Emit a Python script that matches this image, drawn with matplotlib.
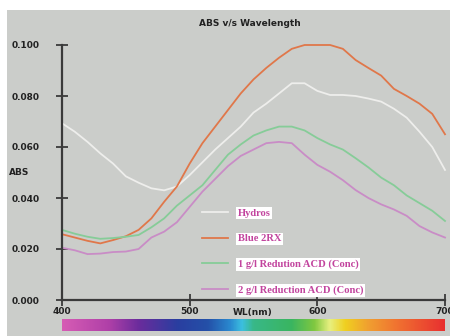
import numpy as np
import matplotlib
matplotlib.use("Agg")
import matplotlib.pyplot as plt
from matplotlib.patches import Rectangle
from matplotlib.colors import LinearSegmentedColormap

wavelength = list(range(400, 701, 10))
hydros = [0.0693, 0.0660, 0.0620, 0.0575, 0.0535, 0.0485, 0.0460, 0.0438, 0.0430, 0.0445,
          0.0490, 0.0540, 0.0590, 0.0635, 0.0680, 0.0735, 0.0770, 0.0810, 0.0850, 0.0850,
          0.0820, 0.0804, 0.0804, 0.0800, 0.0790, 0.0778, 0.0750, 0.0715, 0.0660, 0.0600, 0.0510]
blue_2rx = [0.0258, 0.0245, 0.0232, 0.0222, 0.0235, 0.0250, 0.0275, 0.0320, 0.0385, 0.0445,
            0.0535, 0.0615, 0.0680, 0.0745, 0.0810, 0.0865, 0.0910, 0.0950, 0.0985, 0.1000,
            0.1000, 0.1000, 0.0985, 0.0941, 0.0910, 0.0880, 0.0828, 0.0800, 0.0770, 0.0730, 0.0650]
red_1g = [0.0275, 0.0260, 0.0248, 0.0240, 0.0243, 0.0248, 0.0255, 0.0285, 0.0320, 0.0370,
          0.0410, 0.0450, 0.0510, 0.0570, 0.0610, 0.0645, 0.0665, 0.0680, 0.0680, 0.0665,
          0.0635, 0.0610, 0.0590, 0.0556, 0.0520, 0.0480, 0.0450, 0.0410, 0.0380, 0.0350, 0.0310]
red_2g = [0.0205, 0.0195, 0.0180, 0.0182, 0.0188, 0.0190, 0.0200, 0.0245, 0.0268, 0.0305,
          0.0365, 0.0425, 0.0475, 0.0525, 0.0565, 0.0590, 0.0615, 0.0620, 0.0615, 0.0570,
          0.0530, 0.0503, 0.0470, 0.0431, 0.0400, 0.0375, 0.0355, 0.0330, 0.0290, 0.0265, 0.0245]
series_names = ["Hydros", "Blue 2RX", "1 g/l Redution ACD (Conc)", "2 g/l Reduction ACD (Conc)"]
series_colors = ["#eeeeec", "#e0774a", "#86cc98", "#c98cc6"]
yticks = [0.0, 0.02, 0.04, 0.06, 0.08, 0.10]
ytick_labels = ["0.000", "0.020", "0.040", "0.060", "0.080", "0.100"]
xticks = [400, 500, 600, 700]

W, H = 450, 336
bg = "#cbcdca"
fig = plt.figure(figsize=(W / 100, H / 100), dpi=100)
fig.patch.set_facecolor("white")
fig.patches.append(Rectangle((7 / W, 0), 1 - 7 / W, 1 - 10 / H, transform=fig.transFigure,
                             facecolor=bg, edgecolor="none", zorder=-10))

ax = fig.add_axes([62 / W, 1 - 300 / H, (445 - 62) / W, (300 - 45) / H])
ax.set_facecolor("none")
for vals, name, col in zip([hydros, blue_2rx, red_1g, red_2g], series_names, series_colors):
    ax.plot(wavelength, vals, color=col, lw=1.3, label=name, clip_on=False)
ax.set_xlim(400, 700)
ax.set_ylim(0, 0.1)
for s in ["top", "right"]:
    ax.spines[s].set_visible(False)
for s in ["left", "bottom"]:
    ax.spines[s].set_color("#3a3a3a")
    ax.spines[s].set_linewidth(1.6)
ax.set_yticks(yticks)
ax.set_yticklabels(ytick_labels)
ax.set_xticks(xticks)
ax.set_xticklabels([str(v) for v in xticks])
ax.tick_params(axis="both", direction="inout", length=8, width=1.3, color="#3a3a3a",
               labelsize=6.5, labelcolor="#222222")
ax.tick_params(axis="y", pad=12)
ax.tick_params(axis="x", pad=1)
for lab in ax.get_xticklabels() + ax.get_yticklabels():
    lab.set_fontweight("bold")

fig.text(250 / W, 1 - 23 / H, "ABS v/s Wavelength", ha="center", va="center",
         fontsize=6.5, fontweight="bold", color="#222222")
fig.text(19 / W, 1 - 173 / H, "ABS", ha="center", va="center",
         fontsize=6.5, fontweight="bold", color="#222222")
fig.text(253 / W, 1 - 312 / H, "WL(nm)", ha="center", va="center",
         fontsize=6.5, fontweight="bold", color="#222222")

leg = ax.legend(loc="upper left", bbox_to_anchor=(197 / W, 1 - 203 / H),
                bbox_transform=fig.transFigure, frameon=False, borderpad=0,
                labelspacing=1.55, handlelength=2.4, handletextpad=0.95,
                prop={"family": "Liberation Serif", "weight": "bold", "size": 7.6})
for t in leg.get_texts():
    t.set_color("#c2449e")
    t.set_bbox(dict(facecolor="white", edgecolor="none", pad=1.2))

# spectrum bar
cax = fig.add_axes([62 / W, 1 - 331 / H, (445 - 62) / W, 12 / H])
spec = LinearSegmentedColormap.from_list("spec", [
    (0.0, "#d65cb4"), (0.12, "#b040a8"), (0.2, "#6a2c9c"), (0.3, "#2a3ea0"),
    (0.38, "#2450a8"), (0.44, "#2a8ad0"), (0.47, "#3cc0e0"), (0.5, "#38b888"),
    (0.6, "#3ab560"), (0.66, "#80c840"), (0.7, "#e8f080"), (0.74, "#f0d020"),
    (0.8, "#f0a030"), (0.88, "#f07030"), (1.0, "#e83030")])
cax.imshow(np.linspace(0, 1, 256)[None, :], aspect="auto", cmap=spec, extent=(400, 700, 0, 1))
cax.set_axis_off()

fig.savefig("out.png", dpi=100, facecolor="white")
